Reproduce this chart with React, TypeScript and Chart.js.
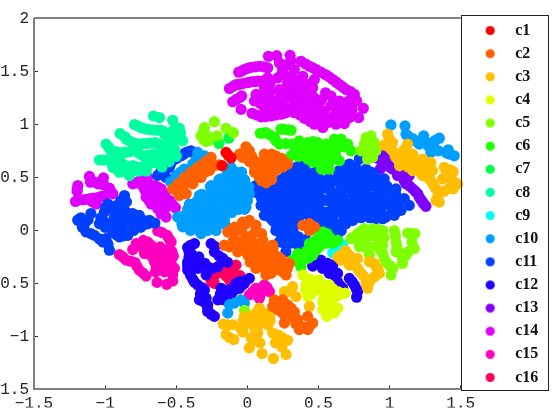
import React, { useEffect, useRef } from "react";
import { Chart, registerables } from "chart.js";

Chart.register(...registerables);

type P = number[];
const c1: P[] = [[-0.15,0.737],[-0.115,0.684],[-0.178,0.612],[-0.135,0.71]];
const c2: P[] = [[-0.255,0.69],[-0.302,0.64],[-0.35,0.596],[-0.396,0.55],[-0.443,0.5],[-0.49,0.44],[-0.525,0.393],[-0.455,0.41],[-0.384,0.44],[-0.326,0.5],[-0.267,0.565],[-0.232,0.612],[-0.43,0.346],[-0.49,0.36],[-0.478,0.33],
[-0.42,0.45],[-0.36,0.5],[-0.3,0.55],[-0.25,0.62],[-0.47,0.4],[-0.34,0.6],[-0.28,0.66],[-0.4,0.5],[-0.2,0.62],
[-0.033,0.69],[0.014,0.752],[-0.01,0.79],[0.037,0.674],[-0.056,0.72],[0.143,0.69],[0.2,0.705],[0.26,0.643],[0.155,0.612],[0.213,0.58],[0.096,0.596],[0.05,0.55],[0.084,0.5],[0.143,0.518],[0.283,0.627],[0.131,0.45],[0.2,0.596],[0.014,0.65],
[0.1,0.65],[0.15,0.65],[0.2,0.65],[0.25,0.6],[0.05,0.6],[0.1,0.54],[0.18,0.54],[0.03,0.7],[0.12,0.72],[0.17,0.72],[0.24,0.68],[0.1,0.47],[0.17,0.48],
[-0.033,0.08],[-0.103,0.018],[0.014,0.096],[0.06,0.05],
[-0.138,-0.014],[-0.162,-0.139],[-0.09,0.032],[-0.01,0.064],[0.06,0],[-0.08,-0.093],[-0.01,-0.061],[0.05,-0.124],[-0.068,-0.202],[0.003,-0.233],[0.12,-0.171],[0.06,-0.264],[0.155,-0.249],[0.096,-0.342],[0.2,-0.311],[0.248,-0.28],[0.166,-0.405],[0.248,-0.39],[0.272,-0.42],[0.295,-0.311],[0.06,-0.358],[0.13,-0.42],[0,-0.124],[-0.126,-0.155],[0.108,-0.093],
[-0.1,-0.03],[-0.04,0],[-0.1,-0.1],[-0.04,-0.12],[-0.05,-0.15],[0,-0.18],[0.05,-0.2],[0.03,-0.05],[0.1,-0.03],[0.1,-0.2],[0.13,-0.28],[0.02,-0.3],[0.16,-0.33],[0.22,-0.25],[0.22,-0.37],[0.1,-0.3],[0.18,-0.17],[0.25,-0.34],[0.28,-0.36],
[0.178,-0.217],[0.2,-0.342],[0.237,-0.327],[0.436,0],[0.389,0.048],[0.471,0.033],[0.436,0.064],[0.178,-0.139],
[0.178,-0.717],[0.248,-0.655],[0.213,-0.748],[0.26,-0.874],[0.307,-0.733],[0.354,-0.842],[0.365,-0.936],[0.424,-0.936],[0.459,-0.874],[0.424,-0.811],[0.248,-0.78],[0.19,-0.655],[0.318,-0.811],
[0.22,-0.68],[0.2,-0.7],[0.28,-0.7],[0.33,-0.77],[0.29,-0.77],[0.27,-0.83],[0.34,-0.88],[0.39,-0.91],[0.44,-0.9],[0.22,-0.72]];
const c3: P[] = [[-0.17,-0.883],[-0.103,-0.89],[-0.15,-0.983],[-0.096,-1.03],[-0.033,-0.958],[-0.021,-0.89],[-0.021,-0.811],[0.026,-0.874],[0.084,-0.733],[0.096,-0.827],[0.155,-0.811],[0.143,-0.89],[0.073,-0.967],[0.026,-1.014],[0.014,-1.108],[0.089,-1.061],[0.103,-1.161],[0.183,-1.208],[0.2,-0.983],[0.236,-1.014],[0.197,-1.061],[0.243,-1.099],[0.272,-1.17],[0.283,-1.036],[0.073,-0.905],[0.026,-0.811],
[-0.14,-0.89],[-0.125,-1.01],[-0.03,-0.85],[0,-0.84],[0.05,-0.84],[0.06,-0.78],[0.12,-0.78],[0.12,-0.85],[0.05,-0.92],[0.05,-1],[0.06,-1.04],[0.16,-0.85],[0.22,-0.99],[0.22,-1.05],[-0.05,-0.92],
[0.295,-0.577],[0.26,-0.577],[0.342,-0.623],[0.318,-0.53],[0.436,-0.717],[0.178,-0.967],[0.248,-1.014],
[0.705,-0.217],[0.658,-0.28],[0.717,-0.327],[0.775,-0.264],[0.775,-0.358],[0.81,-0.42],[0.857,-0.295],[0.904,-0.342],[0.927,-0.405],[0.88,-0.45],[0.834,-0.499],[0.845,-0.545],[0.635,-0.249],
[0.68,-0.26],[0.745,-0.3],[0.79,-0.39],[0.89,-0.31],[0.92,-0.37],[0.9,-0.43],[0.86,-0.48],[0.66,-0.23],[0.69,-0.19],[0.72,-0.24],
[0.986,0.909],[0.962,0.806],[1.02,0.83],[1.02,0.752],[1.126,0.815],[1.08,0.705],[1.162,0.721],[1.173,0.643],[1.232,0.674],[1.29,0.643],[1.208,0.565],[1.302,0.565],[1.232,0.518],[1.29,0.47],[1.326,0.393],[1.349,0.268],[1.384,0.596],[1.447,0.555],[1.372,0.487],[1.384,0.371],[1.447,0.393],[1.478,0.44],[1.443,0.47],[1.162,0.565],[1.208,0.627],[1.044,0.69],[1.255,0.612],[1.326,0.284],
[0.995,0.87],[1,0.78],[1.04,0.72],[1.1,0.76],[1.06,0.68],[1.11,0.65],[1.14,0.71],[1.15,0.63],[1.19,0.6],[1.25,0.65],[1.22,0.54],[1.26,0.55],[1.27,0.5],[1.31,0.43],[1.34,0.33],[1.07,0.61],[1.13,0.6],[1.42,0.575],[1.41,0.5],[1.42,0.4],[1.4,0.54]];
const c4: P[] = [[0.389,-0.42],[0.412,-0.514],[0.424,-0.623],[0.471,-0.483],[0.482,-0.56],[0.541,-0.56],[0.53,-0.748],[0.564,-0.7],[0.558,-0.811],[0.61,-0.78],[0.635,-0.733],[0.576,-0.514],[0.623,-0.623],[0.688,-0.592],[0.506,-0.467],[0.53,-0.67],[0.6,-0.64],[0.447,-0.545],
[0.42,-0.47],[0.44,-0.46],[0.41,-0.56],[0.45,-0.6],[0.47,-0.52],[0.54,-0.52],[0.6,-0.55],[0.64,-0.58],[0.66,-0.6],[0.58,-0.62],[0.55,-0.75],[0.59,-0.76],[0.54,-0.62],[0.505,-0.53]];
const c5: P[] = [[-0.302,0.971],[-0.232,1.027],[-0.15,0.965],[-0.098,0.924],[-0.326,0.893],[-0.29,0.84],[-0.213,0.893],[-0.31,0.86],[-0.31,0.93],[-0.28,0.89],[-0.3,0.9],[-0.27,0.85],
[0.834,0.877],[0.869,0.893],[0.822,0.815],[0.892,0.83],[0.799,0.752],[0.904,0.752],[0.845,0.674],[0.88,0.69],[0.845,0.752],[0.85,0.8],[0.82,0.78],[0.87,0.73],
[0.728,-0.077],[0.775,-0.03],[0.822,0.017],[0.88,0.017],[0.951,0],[0.787,-0.155],[0.857,-0.155],[0.857,-0.233],[0.915,-0.139],[0.951,-0.217],[0.974,-0.295],[1.021,-0.358],[1.01,-0.42],[1.033,0],[1.045,-0.108],[1.08,-0.217],[1.045,-0.2],[1.115,-0.233],[1.09,-0.311],[1.127,-0.024],[1.178,-0.03],[1.157,-0.108],[1.173,-0.17],[0.775,-0.092],[0.904,-0.061],[0.951,-0.139],[-0.02,-0.755],
[0.75,-0.06],[0.8,-0.01],[0.85,0],[0.92,0.01],[0.81,-0.05],[0.86,-0.05],[0.81,-0.12],[0.83,-0.16],[0.96,-0.07],[0.93,-0.18],[0.96,-0.26],[1,-0.33],[1.04,-0.05],[1.05,-0.15],[1.09,-0.26],[1.13,-0.2],[1.15,-0.03]];
const c6: P[] = [[0.091,0.918],[0.131,0.924],[0.19,0.877],[0.236,0.956],[0.307,0.946],[0.225,0.815],[0.318,0.815],[0.365,0.846],[0.307,0.705],[0.354,0.752],[0.424,0.83],[0.494,0.83],[0.553,0.815],[0.611,0.862],[0.658,0.862],[0.705,0.815],[0.728,0.752],[0.4,0.721],[0.482,0.705],[0.459,0.643],[0.517,0.627],[0.576,0.58],[0.553,0.721],[0.635,0.784],[0.646,0.659],[0.494,0.752],[0.6,0.674],[0.424,0.674],[0.54,0.58],
[0.11,0.92],[0.16,0.9],[0.2,0.85],[0.26,0.955],[0.29,0.95],[0.27,0.82],[0.35,0.79],[0.39,0.78],[0.44,0.78],[0.41,0.81],[0.46,0.84],[0.53,0.78],[0.58,0.77],[0.51,0.68],[0.45,0.7],[0.36,0.7],[0.33,0.74],[0.43,0.73],[0.58,0.68],[0.62,0.72],[0.68,0.79],[0.63,0.82],[0.57,0.62],[0.52,0.58],
[0.318,-0.28],[0.377,-0.342],[0.354,-0.217],[0.412,-0.2],[0.459,-0.139],[0.389,-0.28],[0.517,-0.092],[0.506,-0.155],[0.529,-0.014],[0.576,-0.061],[0.459,-0.233],[0.634,-0.092],[0.436,-0.124],
[0.34,-0.26],[0.36,-0.3],[0.43,-0.18],[0.48,-0.19],[0.47,-0.1],[0.55,-0.12],[0.4,-0.24],[0.43,-0.26],[0.56,-0.03],[0.5,-0.05],[0.6,-0.12]];
const c7: P[] = [[-0.131,0.871],[-0.2,0.821]];
const c8: P[] = [[-0.66,1.08],[-0.618,1.065],[-0.525,1.04],[-0.478,0.965],[-0.455,0.846],[-0.525,0.94],[-0.794,1],[-0.747,0.97],[-0.7,0.955],[-0.64,0.946],[-0.595,0.94],[-0.56,0.86],[-0.895,0.915],[-0.853,0.862],[-0.806,0.83],[-0.76,0.815],[-0.71,0.82],[-0.65,0.83],[-0.607,0.8],[-0.525,0.815],[-0.49,0.88],[-0.993,0.815],[-0.958,0.752],[-0.91,0.737],[-0.853,0.737],[-0.794,0.752],[-0.735,0.705],[-0.665,0.72],[-0.595,0.705],[-0.548,0.72],[-1.04,0.665],[-0.98,0.665],[-0.923,0.66],[-0.946,0.596],[-0.9,0.55],[-0.853,0.565],[-0.806,0.612],[-0.747,0.596],[-0.69,0.627],[-0.63,0.643],[-0.83,0.518],[-0.876,0.627],
[-0.77,0.985],[-0.72,0.96],[-0.67,0.95],[-0.61,0.945],[-0.86,0.885],[-0.83,0.845],[-0.785,0.82],[-0.735,0.82],[-0.68,0.825],[-0.63,0.815],[-0.58,0.79],[-0.975,0.785],[-0.93,0.745],[-0.88,0.735],[-0.825,0.745],[-0.765,0.73],[-0.7,0.71],[-0.63,0.71],[-1.01,0.665],[-0.95,0.665],[-0.89,0.645],[-0.92,0.58],[-0.78,0.6],[-0.72,0.61],[-0.66,0.64],[-0.85,0.61],[-0.87,0.56],[-0.8,0.56],[-0.76,0.56],[-0.71,0.56],[-0.6,0.68],[-0.57,0.76],[-0.51,0.76],[-0.5,0.7],[-0.52,0.88],[-0.58,0.9],[-0.5,0.96],[-0.47,0.92],[-0.55,0.65],[-0.6,0.6]];
const c9: P[] = [[0.6,-0.211],[0.63,-0.161],[0.67,-0.133]];
const c10: P[] = [[-0.349,0.737],[-0.302,0.705],[-0.384,0.627],[-0.443,0.58],[-0.5,0.518],[-0.36,0.67],[-0.47,0.55],[-0.54,0.46],[-0.115,0.596],[-0.08,0.55],[-0.185,0.487],[-0.255,0.424],[-0.337,0.33],[-0.407,0.25],[-0.49,0.127],[-0.455,0.034],[-0.033,0.471],[-0.021,0.315],[-0.01,0.22],[-0.175,0.08],[-0.15,0.283],[-0.267,0.221],[-0.22,0.346],[-0.126,0.44],[-0.384,0.127],[-0.29,0.065],[-0.197,0.127],[-0.103,0.19],[-0.056,0.38],[0.014,0.346],[0,0.28],
[-0.14,0.55],[-0.04,0.55],[-0.2,0.48],[-0.14,0.48],[-0.08,0.48],[-0.02,0.48],[-0.26,0.41],[-0.2,0.41],[-0.14,0.41],[-0.08,0.41],[-0.02,0.41],[0.01,0.41],[-0.32,0.34],[-0.26,0.34],[-0.2,0.34],[-0.14,0.34],[-0.08,0.34],[-0.02,0.34],[-0.36,0.27],[-0.3,0.27],[-0.24,0.27],[-0.18,0.27],[-0.12,0.27],[-0.06,0.27],[-0.01,0.27],[-0.42,0.2],[-0.36,0.2],[-0.3,0.2],[-0.24,0.2],[-0.18,0.2],[-0.12,0.2],[-0.06,0.2],[-0.02,0.2],[-0.46,0.13],[-0.4,0.13],[-0.34,0.13],[-0.28,0.13],[-0.22,0.13],[-0.16,0.13],[-0.11,0.17],[-0.46,0.06],[-0.4,0.06],[-0.34,0.06],[-0.28,0.06],[-0.22,0.06],[-0.16,0.06],[-0.4,0],[-0.34,0],[-0.28,0],[-0.22,0],
[-0.443,0.064],[-0.396,0.017],[-0.325,-0.03],[-0.29,0.017],[-0.22,0.064],[-0.16,0.08],[-0.35,0.064],
[-0.138,-0.78],[-0.126,-0.7],[-0.09,-0.686],[-0.021,-0.686],[-0.045,-0.655],
[1.009,0.996],[1.108,0.987],[1.115,0.909],[1.162,0.868],[1.208,0.815],[1.239,0.893],[1.29,0.815],[1.349,0.871],[1.29,0.737],[1.342,0.752],[1.412,0.762],[1.42,0.721],[1.454,0.705],[1.302,0.83],[1.13,0.89],[1.19,0.84],[1.25,0.84],[1.32,0.85],[1.27,0.8],[1.31,0.78],[1.4,0.73]];
const c11: P[] = [[-0.396,0.752],[-0.43,0.737],[-0.466,0.705],[-0.525,0.66],[-0.548,0.596],[-0.595,0.565],[-0.63,0.52],[-0.572,0.5],[-0.384,0.737],[-0.41,0.745],[-0.45,0.72],[-0.5,0.68],[-0.54,0.63],[-0.57,0.58],[-0.61,0.55],[-0.6,0.53],
[-1.192,0.1],[-1.145,0.06],[-1.1,0.16],[-1.03,0.065],[-0.98,0.25],[-1.005,0.175],[-0.864,0.33],[-0.918,0.237],[-0.876,0.25],[-0.934,0.127],[-0.852,0.175],[-0.806,0.16],[-0.76,0.143],[-0.688,0.096],[-0.83,0.08],[-0.736,0.05],[-0.92,0.05],
[-0.85,0.27],[-0.89,0.28],[-0.9,0.2],[-0.85,0.13],[-0.8,0.12],[-0.77,0.1],[-0.88,0.12],[-0.91,0.17],[-0.92,0.09],[-0.96,0.21],[-0.995,0.22],[-1.03,0.12],[-1,0.08],[-0.72,0.09],[-0.65,0.07],[-1.17,0.12],[-1.12,0.1],[-1.16,0.03],[-1.1,-0.03],[-1.04,-0.08],[-0.98,-0.13],[-0.92,-0.04],[-0.87,-0.05],[-0.8,0],[-0.75,0.03],[-0.9,0.03],[-1,0.03],
[-1.134,-0.014],[-1.075,-0.046],[-1.016,-0.108],[-0.97,-0.186],[-1.04,0.064],[-0.946,-0.014],[-0.9,-0.061],[-0.84,-0.046],[-0.958,0.064],[-0.876,0.03],[-0.782,0.048],[-0.7,0.064],[-0.83,0.064],[-0.993,-0.077],[-1.19,0.095],
[0.061,0.424],[0.084,0.346],[0.096,0.237],[0.119,0.143],[0.178,0.159],[0.213,0.065],[0.295,0.065],[0.155,0.393],[0.213,0.44],[0.272,0.518],[0.377,0.612],[0.318,0.565],[0.424,0.534],[0.494,0.518],[0.576,0.487],[0.646,0.565],[0.717,0.627],[0.787,0.674],[0.834,0.58],[0.892,0.534],[0.962,0.487],[1.044,0.393],[1.103,0.3],[1.138,0.237],[1.08,0.19],[1.033,0.143],[0.974,0.127],[0.904,0.112],[0.834,0.143],[0.763,0.127],[0.693,0.174],[0.623,0.174],[0.541,0.174],[0.482,0.174],[0.412,0.159],[0.342,0.159],[0.272,0.174],
[0.19,0.346],[0.248,0.377],[0.318,0.44],[0.389,0.5],[0.248,0.284],[0.155,0.252],[0.33,0.315],[0.4,0.377],[0.482,0.44],[0.564,0.393],[0.646,0.455],[0.728,0.518],[0.81,0.471],[0.88,0.424],[0.962,0.377],[1.009,0.284],[0.389,0.237],[0.471,0.315],[0.553,0.284],[0.635,0.33],[0.717,0.393],[0.799,0.361],[0.892,0.315],[0.951,0.237],[0.74,0.268],[0.822,0.252],[0.892,0.205],[0.67,0.252],[0.318,0.237],[0.248,0.159],
[0.35,0.6],[0.4,0.6],[0.7,0.6],[0.76,0.6],[0.3,0.55],[0.36,0.55],[0.42,0.55],[0.48,0.55],[0.64,0.55],[0.7,0.55],[0.76,0.55],[0.82,0.55],[0.87,0.55],[0.24,0.48],[0.3,0.48],[0.36,0.48],[0.44,0.48],[0.5,0.48],[0.56,0.48],[0.62,0.48],[0.68,0.48],[0.74,0.48],[0.8,0.48],[0.86,0.48],[0.92,0.48],[0.1,0.42],[0.17,0.42],[0.24,0.42],[0.28,0.42],[0.36,0.42],[0.42,0.42],[0.52,0.42],[0.58,0.42],[0.66,0.42],[0.72,0.42],[0.78,0.42],[0.84,0.42],[0.92,0.42],[0.98,0.42],[0.06,0.36],[0.12,0.36],[0.18,0.36],[0.28,0.36],[0.34,0.36],[0.44,0.36],[0.5,0.36],[0.6,0.36],[0.66,0.36],[0.74,0.36],[0.84,0.36],[0.92,0.36],[1,0.36],[1.04,0.36],[0.1,0.3],[0.16,0.3],[0.22,0.3],[0.28,0.3],[0.36,0.3],[0.42,0.3],[0.52,0.3],[0.58,0.3],[0.68,0.3],[0.76,0.3],[0.82,0.3],[0.88,0.3],[0.94,0.3],[1.02,0.3],[1.07,0.3],[0.12,0.24],[0.2,0.24],[0.26,0.24],[0.36,0.24],[0.44,0.24],[0.5,0.24],[0.6,0.24],[0.64,0.24],[0.7,0.24],[0.78,0.24],[0.86,0.24],[0.92,0.24],[1,0.24],[1.06,0.24],[0.14,0.18],[0.22,0.18],[0.3,0.18],[0.38,0.18],[0.46,0.18],[0.5,0.18],[0.58,0.18],[0.66,0.18],[0.74,0.18],[0.8,0.18],[0.86,0.18],[0.94,0.18],[1.02,0.18],[0.16,0.12],[0.22,0.12],[0.3,0.12],[0.36,0.12],[0.44,0.12],[0.54,0.12],[0.6,0.12],[0.68,0.12],[0.8,0.12],[0.86,0.12],[0.92,0.12],[0.2,0.06],[0.26,0.06],[0.34,0.06],[0.54,0.06],[0.62,0.06],[0.66,0.06],[0.2,0],[0.26,0],[0.32,0],[0.58,0],[0.66,0],[0.24,-0.06],[0.3,-0.06],[0.36,-0.06],[0.63,-0.06],[0.26,-0.12],[0.3,-0.12],[0.38,-0.12],
[0.412,-0.086],[0.225,-0.108],[0.271,-0.2],[0.178,0.095],[0.295,0.033],[0.248,-0.03],[0.342,-0.124],[0.35,0.14],[0.506,0.11],[0.634,0],[0.576,0.08],[0.693,0.064],[0.74,0.095],[0.857,0.127],[0.951,0.111],[0.447,0.158],[0.365,-0.155],[0.53,0.03]];
const c12: P[] = [[-0.372,-0.124],[-0.42,-0.161],[-0.396,-0.218],[-0.42,-0.296],[-0.42,-0.374],[-0.384,-0.461],[-0.349,-0.514],[-0.302,-0.561],[-0.337,-0.655],[-0.279,-0.702],[-0.279,-0.764],[-0.232,-0.811],[-0.255,-0.124],[-0.232,-0.202],[-0.173,-0.264],[-0.349,-0.358],[-0.279,-0.342],[-0.208,-0.342],[-0.29,-0.42],[-0.325,-0.608],[-0.372,-0.327],[-0.342,-0.249],[-0.29,-0.64],
[-0.4,-0.14],[-0.41,-0.2],[-0.41,-0.25],[-0.42,-0.33],[-0.4,-0.42],[-0.37,-0.49],[-0.32,-0.54],[-0.33,-0.6],[-0.31,-0.67],[-0.28,-0.73],[-0.255,-0.79],[-0.3,-0.31],[-0.25,-0.36],[-0.23,-0.15],[-0.2,-0.24],[-0.17,-0.29],[-0.14,-0.3],
[-0.185,-0.546],[-0.208,-0.655],[-0.162,-0.655],[-0.103,-0.577],[-0.056,-0.546],[-0.021,-0.499],[0.014,-0.452],[-0.15,-0.593],[-0.08,-0.499],[-0.19,-0.6],[-0.13,-0.56],[-0.08,-0.55],[-0.04,-0.52],[-0.01,-0.47],[-0.19,-0.65],[-0.17,-0.56],[-0.12,-0.62],[-0.05,-0.48],
[0.459,-0.336],[0.517,-0.28],[0.564,-0.311],[0.529,-0.358],[0.576,-0.405],[0.634,-0.405],[0.634,-0.483],[0.67,-0.545],[0.717,-0.452],[0.752,-0.514],[0.775,-0.577],[0.768,-0.63],[0.6,-0.327],[0.49,-0.31],[0.54,-0.34],[0.6,-0.37],[0.56,-0.37],[0.62,-0.44],[0.65,-0.52],[0.735,-0.48],[0.765,-0.55]];
const c13: P[] = [[0.967,0.721],[0.909,0.684],[0.934,0.58],[0.986,0.643],[1.02,0.58],[1.091,0.565],[1.056,0.518],[1.138,0.518],[1.115,0.44],[1.162,0.393],[1.208,0.315],[1.255,0.228],[1.197,0.346],[1.232,0.268],[1.103,0.47],[1,0.6],[1.05,0.56],[0.94,0.66],[0.95,0.62],[1.08,0.52],[1.12,0.48],[1.14,0.42],[1.18,0.37],[1.22,0.29],[1.24,0.25]];
const c14: P[] = [[-1.11,0.51],[-1.192,0.424],[-1.197,0.371],[-1.103,0.456],[-1.05,0.44],[-1.012,0.496],[-0.97,0.4],[-0.946,0.346],[-1.208,0.274],[-1.157,0.29],[-1.105,0.3],[-1.05,0.31],[-1.005,0.325],[-1.063,0.25],[-1.195,0.395],[-1.13,0.295],[-1.08,0.305],[-1.03,0.32],[-1.08,0.46],[-1.03,0.46],[-1.01,0.43],[-0.96,0.37],[-1.09,0.27],
[-0.806,0.44],[-0.76,0.465],[-0.7,0.5],[-0.724,0.39],[-0.653,0.424],[-0.606,0.393],[-0.712,0.315],[-0.653,0.33],[-0.583,0.346],[-0.677,0.25],[-0.618,0.268],[-0.548,0.284],[-0.63,0.205],[-0.572,0.22],[-0.506,0.215],[-0.572,0.127],[-0.607,0.158],
[-0.78,0.45],[-0.73,0.48],[-0.74,0.43],[-0.68,0.41],[-0.63,0.41],[-0.7,0.36],[-0.65,0.37],[-0.6,0.35],[-0.69,0.28],[-0.64,0.29],[-0.58,0.3],[-0.53,0.25],[-0.6,0.23],[-0.59,0.17],[-0.55,0.27],
[0.148,1.644],[0.206,1.65],[0.225,1.581],[0.3,1.653],[0.307,1.603],[0.377,1.597],[-0.061,1.494],[-0.021,1.519],[0.026,1.54],[0.085,1.55],[0.143,1.534],[-0.126,1.34],[-0.079,1.378],[-0.033,1.387],[0.026,1.403],[0.073,1.409],[-0.103,1.215],[-0.056,1.253],[-0.044,1.143],[0.033,1.106],[0.096,1.072],[0.167,1.081],[0.237,1.097],[0.12,1.159],[0.19,1.143],[0.05,1.222],[0.061,1.284],[0.143,1.44],[0.12,1.347],[0.143,1.269],[0.248,1.519],[0.213,1.44],[0.225,1.331],[0.33,1.519],[0.319,1.425],[0.436,1.55],[0.483,1.519],[0.548,1.472],[0.6,1.425],[0.647,1.378],[0.694,1.331],[0.752,1.284],[0.768,1.222],[0.815,1.153],[0.736,1.144],[0.782,1.066],[0.717,1.066],[0.682,1.009],[0.623,1.003],[0.565,1.019],[0.53,0.972],[0.471,1.003],[0.401,1.059],[0.33,1.112],[0.389,1.456],[0.471,1.425],[0.389,1.378],[0.459,1.347],[0.319,1.315],[0.389,1.284],[0.272,1.253],[0.342,1.222],[0.424,1.206],[0.26,1.159],[0.366,1.144],[0.483,1.175],[0.541,1.128],[0.553,1.05],[0.483,1.081],[0.588,1.269],[0.647,1.222],[0.588,1.175],[0.658,1.128],[0.611,1.081],[0.448,1.284],
[-0.1,1.36],[-0.055,1.38],[0,1.395],[0.05,1.405],[0.1,1.41],[-0.08,1.235],[-0.04,1.27],[-0.04,1.505],[0,1.53],[0.055,1.545],[0.115,1.545],[0.065,1.09],[0.13,1.075],[0.2,1.09],[0.27,1.11],[0.3,1.13],[0.41,1.57],[0.46,1.535],[0.515,1.495],[0.575,1.45],[0.625,1.4],[0.67,1.355],[0.725,1.31],
[0.16,1.39],[0.16,1.31],[0.18,1.22],[0.23,1.2],[0.28,1.3],[0.28,1.38],[0.27,1.46],[0.35,1.35],[0.36,1.42],[0.42,1.38],[0.41,1.32],[0.37,1.23],[0.31,1.27],[0.23,1.26],[0.32,1.17],[0.41,1.14],[0.45,1.1],[0.51,1.14],[0.52,1.23],[0.47,1.25],[0.55,1.3],[0.52,1.06],[0.44,1.03],[0.37,1.09],[0.59,1.03],[0.64,1.05],[0.68,1.17],[0.7,1.09],[0.62,1.17],[0.71,1.22],[0.27,1.56],[0.24,1.47],[0.29,1.44],[0.1,1.27],[0.09,1.2],[0.14,1.2]];
const c15: P[] = [[-0.63,-0.005],[-0.565,-0.046],[-0.536,-0.108],[-0.731,-0.093],[-0.782,-0.124],[-0.806,-0.18],[-0.9,-0.227],[-0.852,-0.28],[-0.79,-0.302],[-0.76,-0.374],[-0.712,-0.43],[-0.677,-0.14],[-0.614,-0.155],[-0.723,-0.218],[-0.665,-0.218],[-0.595,-0.233],[-0.52,-0.243],[-0.653,-0.295],[-0.583,-0.295],[-0.513,-0.358],[-0.646,-0.39],[-0.583,-0.39],[-0.635,-0.49],[-0.567,-0.508],[-0.525,-0.477],[-0.525,-0.42],
[-0.6,-0.02],[-0.55,-0.08],[-0.7,-0.11],[-0.75,-0.15],[-0.7,-0.16],[-0.65,-0.17],[-0.64,-0.25],[-0.58,-0.26],[-0.54,-0.28],[-0.53,-0.33],[-0.875,-0.25],[-0.82,-0.29],[-0.775,-0.34],[-0.735,-0.4],[-0.64,-0.34],[-0.6,-0.34],[-0.55,-0.38],[-0.61,-0.2],[-0.67,-0.25],[-0.55,-0.17],[-0.53,-0.2],
[0.014,-0.608],[0.084,-0.64],[0.12,-0.514],[0.155,-0.577],[0.06,-0.546],[0.037,-0.577],[0.096,-0.577],[0.1,-0.54],[0.14,-0.54],[0.05,-0.6],[0.09,-0.61]];
const c16: P[] = [[-0.255,-0.483],[-0.22,-0.405],[-0.15,-0.374],[-0.126,-0.468],[-0.08,-0.327],[-0.052,-0.427],[-0.232,-0.499],[-0.115,-0.358],[-0.185,-0.39],[-0.126,-0.42],[-0.2,-0.4],[-0.17,-0.38],[-0.1,-0.34],[-0.09,-0.4],[-0.15,-0.43],[-0.24,-0.45]];

const seriesNames = ["c1","c2","c3","c4","c5","c6","c7","c8","c9","c10","c11","c12","c13","c14","c15","c16"];
const seriesPoints = [c1,c2,c3,c4,c5,c6,c7,c8,c9,c10,c11,c12,c13,c14,c15,c16];
const seriesColors = ["#ff0000","#ff6000","#ffbf00","#dfff00","#80ff00","#20ff00","#00ff40","#00ff9f","#00ffff","#009fff","#0040ff","#2000ff","#8000ff","#df00ff","#ff00bf","#ff0060"];
const xTicks = [-1.5,-1,-0.5,0,0.5,1,1.5];
const yTicks = [-1.5,-1,-0.5,0,0.5,1,1.5,2];

const tickFont = { family: "'Liberation Mono'", size: 16 };
const fmt = (v: any) => String(v).replace("-", "\u2212");

function dot(color: string) {
  const c = document.createElement("canvas");
  c.width = 11; c.height = 11;
  const g = c.getContext("2d")!;
  g.fillStyle = color;
  g.beginPath(); g.arc(5.5, 5.5, 4.6, 0, Math.PI * 2); g.fill();
  return c;
}

const framePlugin = {
  id: "frame",
  afterLayout(chart: any) {
    const lg = chart.legend;
    lg.left = 466; lg.right = 545; lg.top = 8; lg.bottom = 400;
  },
  afterDraw(chart: any) {
    const { ctx, chartArea: a } = chart;
    ctx.save();
    ctx.strokeStyle = "#808080"; ctx.lineWidth = 2;
    ctx.beginPath(); ctx.moveTo(a.left, a.top - 0.5); ctx.lineTo(a.right, a.top - 0.5); ctx.stroke();
    ctx.strokeStyle = "#222"; ctx.lineWidth = 1;
    ctx.strokeRect(461.5, 15.5, 87, 375);
    ctx.restore();
  },
};

export default function App() {
  const ref = useRef<HTMLCanvasElement>(null);
  useEffect(() => {
    const chart = new Chart(ref.current!, {
      type: "scatter",
      data: {
        datasets: seriesNames.map((n, i) => ({
          label: n,
          data: seriesPoints[i].map(([x, y]) => ({ x, y })),
          backgroundColor: seriesColors[i],
          borderWidth: 0,
          pointRadius: 5.6,
          pointHoverRadius: 5.6,
        })),
      },
      options: {
        responsive: false,
        animation: false,
        clip: false as any,
        layout: { padding: { top: 17, right: 11, bottom: 0, left: 0 } },
        plugins: {
          tooltip: { enabled: false },
          title: { display: false },
          legend: {
            display: true,
            position: "right",
            fullSize: true,
            labels: {
              usePointStyle: true,
              pointStyleWidth: 34,
              padding: 7.13,
              color: "#111",
              font: { family: "'Liberation Serif'", size: 16, weight: "bold" },
              generateLabels: () => seriesNames.map((n, i) => ({
                text: n, datasetIndex: i, pointStyle: dot(seriesColors[i]), fillStyle: seriesColors[i], strokeStyle: seriesColors[i], lineWidth: 0, fontColor: "#111",
              })),
            },
          },
        },
        scales: {
          x: {
            type: "linear", min: -1.5, max: 1.5,
            afterBuildTicks: (s: any) => { s.ticks = xTicks.map((value) => ({ value })); },
            afterFit: (s: any) => { s.height = 18; },
            border: { color: "#808080", width: 2 },
            grid: { drawOnChartArea: false, drawTicks: true, tickLength: -4, color: "#333", lineWidth: 1 },
            ticks: { color: "#222", font: tickFont, padding: 9, maxRotation: 0, autoSkip: false, callback: fmt },
          },
          y: {
            type: "linear", min: -1.5, max: 2,
            afterBuildTicks: (s: any) => { s.ticks = yTicks.map((value) => ({ value })); },
            afterFit: (s: any) => { s.width = 34; },
            border: { color: "#808080", width: 2 },
            grid: { drawOnChartArea: false, drawTicks: true, tickLength: -4, color: "#333", lineWidth: 1 },
            ticks: { color: "#222", font: tickFont, padding: 9, autoSkip: false, callback: fmt },
          },
        },
      } as any,
      plugins: [framePlugin],
    });
    return () => chart.destroy();
  }, []);
  return (
    <canvas
      ref={ref}
      width={554}
      height={408}
      style={{ position: "absolute", left: 0, top: 0, width: 554, height: 408, display: "block" }}
    />
  );
}
